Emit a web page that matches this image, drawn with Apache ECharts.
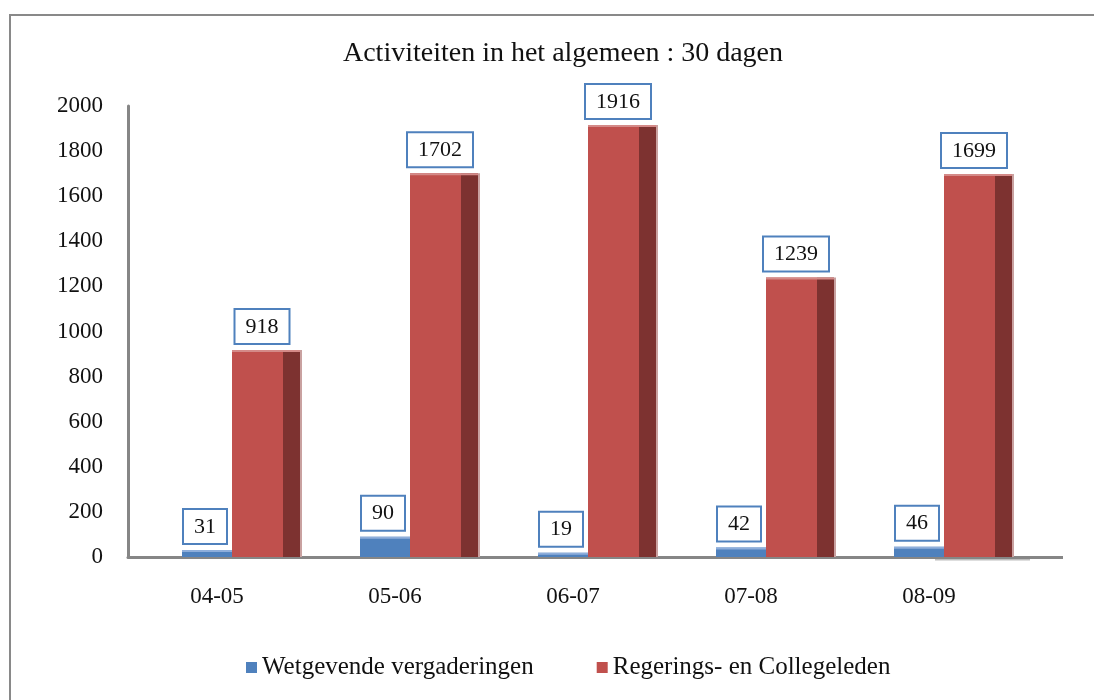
<!DOCTYPE html>
<html>
<head>
<meta charset="utf-8">
<script src="https://cdn.jsdelivr.net/npm/echarts@6/dist/echarts.min.js"></script>
<style>
html,body{margin:0;padding:0;background:#fff;}
#chart{width:1094px;height:700px;}
</style>
</head>
<body>
<div id="chart"></div>
<script>
const categories = ['04-05', '05-06', '06-07', '07-08', '08-09'];
const wetgevende = [31, 90, 19, 42, 46];
const regerings = [918, 1702, 1916, 1239, 1699];
const seriesNames = ['Wetgevende vergaderingen', 'Regerings- en Collegeleden'];
const titleText = 'Activiteiten in het algemeen : 30 dagen';

const FONT = '"Liberation Serif", "DejaVu Serif", serif';
const labelStyle = {
  fill: '#111', font: '22px ' + FONT, align: 'center', verticalAlign: 'bottom',
  backgroundColor: '#fff', borderColor: '#4f81bd', borderWidth: 2, padding: [6, 10, 5, 10]
};

function renderBlue(params, api) {
  const base = api.coord([api.value(0), 0]);
  const top = api.coord([api.value(0), api.value(1)]);
  const x0 = base[0] - 35, w = 50;
  const h = base[1] - top[1];
  return {type: 'group', children: [
    {type: 'rect', shape: {x: x0, y: top[1], width: w, height: h}, style: {fill: '#4f81bd'}},
    {type: 'rect', shape: {x: x0, y: top[1], width: w, height: Math.min(2, h)}, style: {fill: '#8eaedb'}},
    {type: 'text', x: x0 + w / 2 - 2, y: top[1] - 7, style: Object.assign({text: String(api.value(1))}, labelStyle)}
  ]};
}
function renderRed(params, api) {
  const base = api.coord([api.value(0), 0]);
  const top = api.coord([api.value(0), api.value(1)]);
  const x0 = base[0] + 15, w = 51, sw = 17;
  const h = base[1] - top[1];
  return {type: 'group', children: [
    {type: 'rect', shape: {x: x0, y: top[1], width: w, height: h}, style: {fill: '#c0504d'}},
    {type: 'rect', shape: {x: x0 + w, y: top[1], width: sw, height: h}, style: {fill: '#7d3230'}},
    {type: 'rect', shape: {x: x0 + w + sw, y: top[1], width: 2, height: h}, style: {fill: '#c9a1a0'}},
    {type: 'rect', shape: {x: x0, y: top[1], width: w + sw, height: 2}, style: {fill: '#d48a88'}},
    {type: 'text', x: x0 + 30, y: top[1] - 7, style: Object.assign({text: String(api.value(1))}, labelStyle)}
  ]};
}

const chart = echarts.init(document.getElementById('chart'));
chart.setOption({
  backgroundColor: '#fff',
  animation: false,
  title: {
    text: titleText, left: 558, top: 35, textAlign: 'center',
    textStyle: {fontFamily: FONT, fontSize: 28, fontWeight: 'normal', color: '#111'}
  },
  legend: {
    left: 241, top: 650, itemWidth: 11, itemHeight: 11, itemGap: 63, icon: 'rect',
    textStyle: {fontFamily: FONT, fontSize: 25, color: '#111', padding: [0, 0, 0, 0]},
    data: seriesNames
  },
  grid: {left: 128, right: 76, top: 106, bottom: 143},
  xAxis: {
    type: 'category', data: categories,
    axisLine: {show: true, lineStyle: {color: '#868686', width: 3}},
    axisTick: {show: false},
    axisLabel: {margin: 28, fontFamily: FONT, fontSize: 23, color: '#111'}
  },
  yAxis: {
    type: 'value', min: 0, max: 2000, interval: 200,
    axisLine: {show: true, lineStyle: {color: '#868686', width: 3}},
    axisTick: {show: false},
    splitLine: {show: false},
    axisLabel: {margin: 25, fontFamily: FONT, fontSize: 23, color: '#111', formatter: v => String(v)}
  },
  graphic: [
    {type: 'rect', shape: {x: 10, y: 15, width: 1100, height: 700}, style: {fill: 'none', stroke: '#898989', lineWidth: 2}, silent: true},
    {type: 'line', shape: {x1: 1016, y1: 557.5, x2: 1063, y2: 557.5}, style: {stroke: '#868686', lineWidth: 3}, silent: true},
    {type: 'line', shape: {x1: 935, y1: 559.5, x2: 1030, y2: 559.5}, style: {stroke: '#bdbdbd', lineWidth: 2}, silent: true, z: -1}
  ],
  series: [
    {
      name: seriesNames[0], type: 'custom', renderItem: renderBlue,
      itemStyle: {color: '#4f81bd'}, encode: {x: 0, y: 1},
      data: wetgevende.map((v, i) => [i, v])
    },
    {
      name: seriesNames[1], type: 'custom', renderItem: renderRed,
      itemStyle: {color: '#c0504d'}, encode: {x: 0, y: 1},
      data: regerings.map((v, i) => [i, v])
    }
  ]
});
</script>
</body>
</html>
